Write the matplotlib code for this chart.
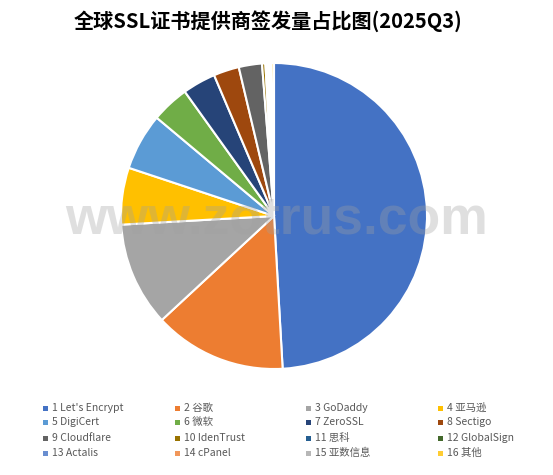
import matplotlib
matplotlib.use("Agg")
import matplotlib.pyplot as plt
from matplotlib.patches import Rectangle

plt.rcParams['font.family'] = ['Noto Sans CJK SC', 'DejaVu Sans']

labels = ["1 Let's Encrypt", "2 谷歌", "3 GoDaddy", "4 亚马逊",
          "5 DigiCert", "6 微软", "7 ZeroSSL", "8 Sectigo",
          "9 Cloudflare", "10 IdenTrust", "11 思科", "12 GlobalSign",
          "13 Actalis", "14 cPanel", "15 亚数信息", "16 其他"]
shares = [49.1, 14.0, 11.0, 6.0, 6.0, 4.0, 3.5, 2.7,
          2.45, 0.35, 0.2, 0.15, 0.12, 0.1, 0.08, 0.25]
colors = ["#4472C4", "#ED7D31", "#A5A5A5", "#FFC000", "#5B9BD5", "#70AD47",
          "#264478", "#9E480E", "#636363", "#997300", "#255E91", "#43682B",
          "#698ED0", "#F1975A", "#B7B7B7", "#FFCD33"]
title = "全球SSL证书提供商签发量占比图(2025Q3)"
watermark = "www.zotrus.com"

W, H = 553, 475
fig = plt.figure(figsize=(W / 100, H / 100), dpi=100)

cx, cy, r = 274, 216, 153
ax = fig.add_axes([(cx - r) / W, (H - cy - r) / H, 2 * r / W, 2 * r / H])
ax.pie(shares, colors=colors, startangle=90, counterclock=False,
       wedgeprops=dict(edgecolor="white", linewidth=1.5))
ax.set_xlim(-1, 1)
ax.set_ylim(-1, 1)
ax.set_aspect("auto")
ax.axis("off")

fig.text(268 / W, 1 - 21 / H, title, ha="center", va="center",
         fontsize=14.5, fontweight="bold", color="#000000")

fig.text(277 / W, 1 - 219 / H, watermark, ha="center", va="center",
         fontsize=38.5, fontweight="bold", color="#a0a0a0", alpha=0.33,
         family="Liberation Sans", zorder=10)

col_x = [45, 177, 308, 440]
row_y = [408, 422, 438, 453]
for i, (lab, c) in enumerate(zip(labels, colors)):
    row, col = divmod(i, 4)
    x, y = col_x[col], row_y[row]
    fig.add_artist(Rectangle(((x - 2.5) / W, 1 - (y + 2.5) / H), 5 / W, 5 / H,
                             transform=fig.transFigure, facecolor=c, edgecolor="none"))
    fig.text((x + 7) / W, 1 - y / H, lab, ha="left", va="center",
             fontsize=7.5, color="#595959")

fig.savefig("out.png", dpi=100, facecolor="white")
